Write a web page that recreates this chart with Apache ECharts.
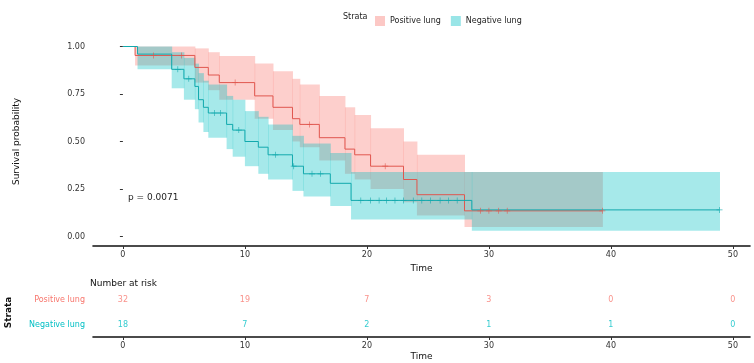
<!DOCTYPE html>
<html>
<head>
<meta charset="utf-8">
<script src="https://cdn.jsdelivr.net/npm/echarts@6/dist/echarts.min.js"></script>
<style>
  html, body { margin: 0; padding: 0; background: #fff; }
  #chart-container { width: 754px; height: 363px; }
</style>
</head>
<body>
<div id="chart-container"></div>
<script>
var groups = ['Positive lung', 'Negative lung'];
var tickVals = [0, 10, 20, 30, 40, 50];

// Kaplan-Meier steps, group 1
var posTime  = [0, 1.0, 5.9, 7.0, 7.9, 10.8, 12.3, 13.9, 14.5, 16.1, 18.2, 19.0, 20.3, 23.0, 24.1, 28.0, 39.3];
var posSurv  = [1, 0.953, 0.89, 0.85, 0.81, 0.74, 0.68, 0.62, 0.59, 0.52, 0.46, 0.43, 0.37, 0.30, 0.22, 0.135, 0.135];
var posUpper = [1, 1.0, 0.99, 0.97, 0.95, 0.91, 0.87, 0.83, 0.80, 0.74, 0.68, 0.64, 0.57, 0.50, 0.43, 0.34, 0.34];
var posLower = [1, 0.90, 0.81, 0.77, 0.72, 0.62, 0.56, 0.50, 0.47, 0.40, 0.33, 0.30, 0.25, 0.18, 0.11, 0.05, 0.05];
var posCensor = [2.5, 4.8, 9.2, 15.3, 21.5, 29.3, 30.0, 30.8, 31.5, 39.3];

// Kaplan-Meier steps, group 2
var negTime  = [0, 1.2, 4.0, 5.0, 5.9, 6.2, 6.6, 7.0, 8.5, 9.0, 10.0, 11.1, 11.9, 13.9, 14.8, 17.0, 18.7, 28.6, 48.9];
var negSurv  = [1, 0.96, 0.88, 0.83, 0.79, 0.72, 0.68, 0.65, 0.59, 0.56, 0.50, 0.47, 0.43, 0.37, 0.33, 0.28, 0.19, 0.14, 0.14];
var negUpper = [1, 1.0, 0.97, 0.94, 0.91, 0.86, 0.82, 0.80, 0.74, 0.72, 0.66, 0.63, 0.59, 0.53, 0.49, 0.44, 0.34, 0.34, 0.34];
var negLower = [1, 0.88, 0.78, 0.72, 0.67, 0.60, 0.55, 0.52, 0.46, 0.42, 0.37, 0.33, 0.30, 0.24, 0.21, 0.16, 0.09, 0.03, 0.03];
var negCensor = [4.5, 5.4, 7.5, 8.0, 9.5, 12.5, 14.0, 15.5, 16.2, 19.5, 20.3, 21.0, 21.6, 22.3, 23.0, 23.8, 24.5, 25.2, 26.0, 26.7, 27.4, 48.9];

// number at risk at tickVals
var posRisk = [32, 19, 7, 3, 0, 0];
var negRisk = [18, 7, 2, 1, 1, 0];

var pText = 'p = 0.0071';

var red = '#F8766D', teal = '#00BFC4';
var redLine = '#E0574F', tealLine = '#12A9AD';
var redFill = 'rgba(248,118,109,0.35)', tealFill = 'rgba(0,191,196,0.35)';

function zip(a, b) { return a.map(function (v, i) { return [v, b[i]]; }); }
function stepAt(times, surv, t) {
  var s = surv[0];
  for (var i = 0; i < times.length; i++) { if (times[i] <= t) s = surv[i]; }
  return s;
}
function censorPts(c, times, surv) { return c.map(function (t) { return [t, stepAt(times, surv, t)]; }); }
// one rect per step of the confidence band: [t0, t1, lower, upper]
function bandSegs(times, upper, lower) {
  var out = [];
  for (var i = 0; i < times.length - 1; i++) out.push([times[i], times[i + 1], lower[i], upper[i]]);
  return out;
}

var plus = 'path://M4.4,0H5.6V10H4.4ZM0,4.4H10V5.6H0Z';
var font = 'DejaVu Sans';

function bandSeries(name, times, upper, lower, fill) {
  return {
    name: name, type: 'custom', silent: true, z: 1,
    data: bandSegs(times, upper, lower),
    encode: { x: [0, 1], y: [2, 3] },
    renderItem: function (params, api) {
      var p0 = api.coord([api.value(0), api.value(3)]);
      var p1 = api.coord([api.value(1), api.value(2)]);
      return {
        type: 'rect',
        shape: { x: p0[0], y: p0[1], width: p1[0] - p0[0] + 0.5, height: p1[1] - p0[1] },
        style: { fill: fill }
      };
    }
  };
}

var chartDom = document.getElementById('chart-container');
var myChart = echarts.init(chartDom);

var series = [
  bandSeries('posBand', posTime, posUpper, posLower, redFill),
  bandSeries('negBand', negTime, negUpper, negLower, tealFill),
  { name: groups[0], type: 'line', step: 'end', data: zip(posTime, posSurv), symbol: 'none',
    lineStyle: { color: redLine, width: 1 }, itemStyle: { color: redLine }, z: 3 },
  { name: groups[1], type: 'line', step: 'end', data: zip(negTime, negSurv), symbol: 'none',
    lineStyle: { color: tealLine, width: 1 }, itemStyle: { color: tealLine }, z: 3 },
  { name: 'posCensor', type: 'scatter', data: censorPts(posCensor, posTime, posSurv), symbol: plus,
    symbolSize: 6, itemStyle: { color: redLine }, z: 4 },
  { name: 'negCensor', type: 'scatter', data: censorPts(negCensor, negTime, negSurv), symbol: plus,
    symbolSize: 6, itemStyle: { color: tealLine }, z: 4 },
  { name: 'posRisk', type: 'scatter', xAxisIndex: 1, yAxisIndex: 1, symbolSize: 1,
    itemStyle: { color: 'rgba(0,0,0,0)' },
    data: tickVals.map(function (t, i) { return [t, groups[0], posRisk[i]]; }),
    label: { show: true, position: 'inside', color: red, fontSize: 8, fontFamily: font,
      formatter: function (p) { return p.value[2]; } } },
  { name: 'negRisk', type: 'scatter', xAxisIndex: 1, yAxisIndex: 1, symbolSize: 1,
    itemStyle: { color: 'rgba(0,0,0,0)' },
    data: tickVals.map(function (t, i) { return [t, groups[1], negRisk[i]]; }),
    label: { show: true, position: 'inside', color: teal, fontSize: 8, fontFamily: font,
      formatter: function (p) { return p.value[2]; } } }
];

var xBase = {
  type: 'value', min: -2.45, max: 51.4,
  splitLine: { show: false },
  axisLine: { show: true, onZero: false, lineStyle: { color: '#111', width: 1.6 } },
  axisTick: { show: true, customValues: tickVals, length: 3, lineStyle: { color: '#333' } },
  axisLabel: { customValues: tickVals, fontSize: 8, color: '#333', fontFamily: font, margin: 5 },
  name: 'Time', nameLocation: 'middle',
  nameTextStyle: { fontSize: 9, color: '#111', fontFamily: font }
};

option = {
  animation: false,
  textStyle: { fontFamily: font },
  grid: [
    { left: 93, right: 4, top: 37, bottom: 117, outerBoundsMode: 'none' },
    { left: 93, right: 4, top: 288, bottom: 26, outerBoundsMode: 'none' }
  ],
  legend: {
    data: [
      { name: groups[0], icon: 'rect', itemStyle: { color: 'rgba(248,118,109,0.4)' } },
      { name: groups[1], icon: 'rect', itemStyle: { color: 'rgba(0,191,196,0.4)' } }
    ],
    left: 370, top: 11, itemWidth: 10, itemHeight: 10, itemGap: 10,
    textStyle: { fontSize: 8, color: '#222', fontFamily: font }
  },
  xAxis: [
    Object.assign({}, xBase, { gridIndex: 0, nameGap: 18 }),
    Object.assign({}, xBase, { gridIndex: 1, nameGap: 15 })
  ],
  yAxis: [
    {
      type: 'value', gridIndex: 0, min: -0.05, max: 1.05,
      splitLine: { show: false },
      axisLine: { show: false },
      axisTick: { show: true, customValues: [0, 0.25, 0.5, 0.75, 1], length: 3, lineStyle: { color: '#333' } },
      axisLabel: { customValues: [0, 0.25, 0.5, 0.75, 1], fontSize: 8, color: '#333', fontFamily: font,
        formatter: function (v) { return v.toFixed(2); } },
      name: 'Survival probability', nameLocation: 'middle', nameGap: 72, nameMoveOverlap: false,
      nameTextStyle: { fontSize: 9, color: '#111', fontFamily: font }
    },
    {
      type: 'category', gridIndex: 1, data: [groups[1], groups[0]],
      axisLine: { show: false }, axisTick: { show: false },
      axisLabel: { fontSize: 8, fontFamily: font, margin: 8,
        color: function (v) { return v === groups[0] ? red : teal; } },
      name: 'Strata', nameLocation: 'middle', nameGap: 80, nameRotate: 90, nameMoveOverlap: false,
      nameTextStyle: { fontSize: 9, fontWeight: 'bold', color: '#111', fontFamily: font }
    }
  ],
  graphic: [
    { type: 'text', left: 343, top: 13, style: { text: 'Strata', fontSize: 8, fill: '#222', fontFamily: font } },
    { type: 'text', left: 128, top: 193, style: { text: pText, fontSize: 9, fill: '#222', fontFamily: font } },
    { type: 'text', left: 90, top: 279, style: { text: 'Number at risk', fontSize: 9, fill: '#111', fontFamily: font } }
  ],
  series: series
};

option && myChart.setOption(option);
</script>
</body>
</html>
